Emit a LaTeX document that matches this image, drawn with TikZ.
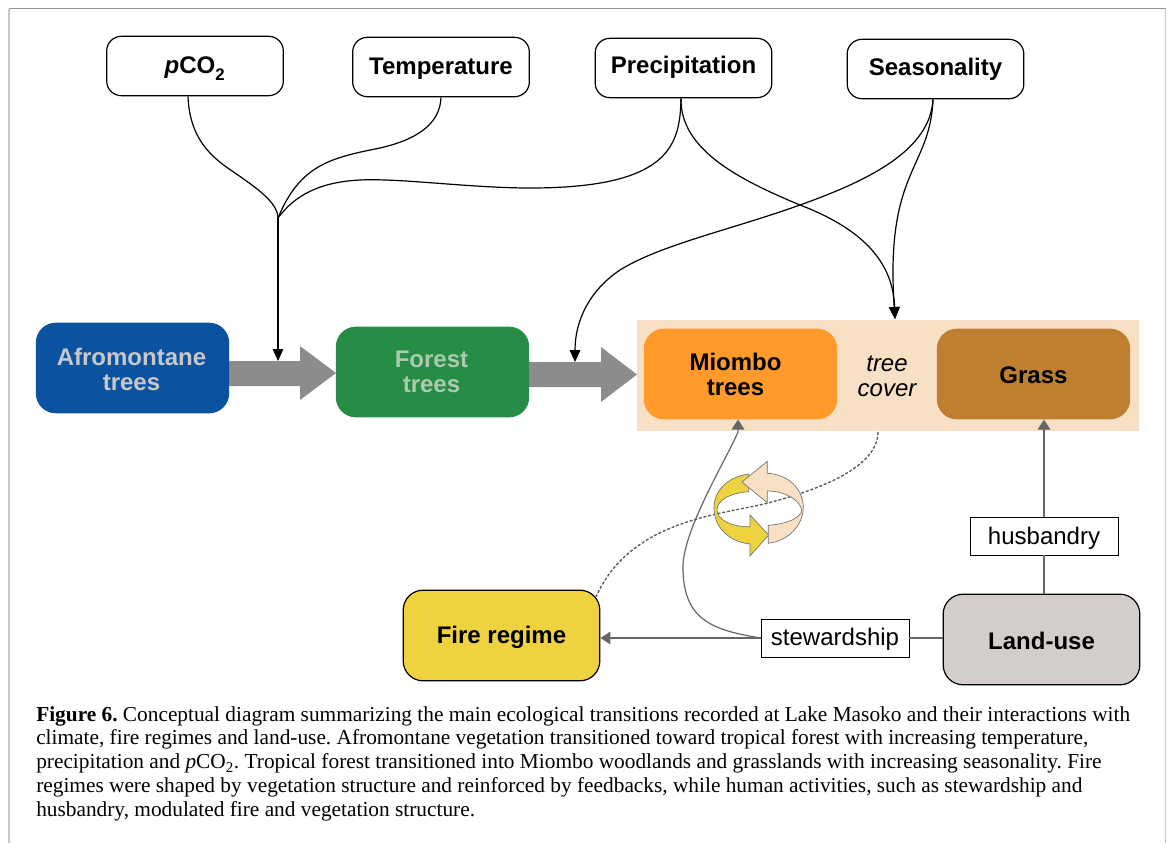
\documentclass[tikz,border=0pt]{standalone}
\usepackage{fontspec}
\setmainfont{Liberation Serif}
\newfontfamily\sansf{Liberation Sans}
\usetikzlibrary{arrows.meta}
\definecolor{bandc}{HTML}{F8E0C4}
\definecolor{yelc}{HTML}{EED23F}
\definecolor{linegray}{HTML}{666666}
\tikzset{
  x=0.75pt,y=-0.75pt,
  driver/.style={draw=black,line width=0.9pt,fill=white,rounded corners=11pt,minimum width=132.5pt,minimum height=44.5pt,inner sep=0pt,font=\sansf\bfseries\fontsize{18}{21}\selectfont,align=center},
  veg/.style={rounded corners=15pt,minimum width=145pt,minimum height=68pt,inner sep=0pt,font=\sansf\bfseries\fontsize{18}{18.75}\selectfont,align=center},
  tagbox/.style={draw=black,line width=0.5pt,fill=white,minimum width=111pt,minimum height=28.5pt,inner sep=0pt,font=\sansf\fontsize{18}{21}\selectfont},
  climate/.style={draw=black,line width=0.9pt},
  climatetip/.style={climate,-{Triangle[length=9pt,width=8pt]}},
  human/.style={draw=linegray,line width=0.9pt},
  humantip/.style={human,-{Triangle[length=7.5pt,width=9.5pt]}},
  blockarrow/.style={fill=black!45!white,draw=none},
  feedback/.style={draw=black!55!white,line width=0.5pt},
  up/.style={text height=#1,text depth=0pt},
}
\begin{document}
\begin{tikzpicture}
\useasboundingbox (0,0) rectangle (1171,843);
\fill[white] (0,0) rectangle (1171,843);
\draw[black!22,line width=1.4pt] (9,843) -- (9,8.5);
\draw[black!22,line width=1.2pt] (1165.5,8.5) -- (1165.5,843);
\draw[black!42,line width=1pt] (9,8.5) -- (1165.5,8.5);

% climate drivers
\node[driver,up=10.5pt] (co) at (195,66) {\textit{p}CO\textsubscript{\raisebox{-0.5ex}{2}}};
\node[driver,up=10.5pt] (temp) at (441,67) {Temperature};
\node[driver,up=8.25pt] (prec) at (683.5,68) {Precipitation};
\node[driver,up=9.75pt] (seas) at (935.5,69) {Seasonality};

% band
\node[fill=bandc,minimum width=376.5pt,minimum height=83.25pt,inner sep=0pt] (band) at (888,375.5) {};

% block arrows
\fill[blockarrow] (229,361) -- (300,361) -- (300,346) -- (336,373) -- (300,400) -- (300,386) -- (229,386) -- cycle;
\fill[blockarrow] (529,362) -- (601,362) -- (601,347) -- (637,374.5) -- (601,402) -- (601,387) -- (529,387) -- cycle;

% vegetation
\node[veg,up=33.75pt,fill={rgb,255:red,11;green,82;blue,160},text={rgb,255:red,200;green,200;blue,200}] (afro) at (132.5,368) {Afromontane\hspace*{1.5pt}\\trees\hspace*{1.5pt}};
\node[veg,up=30.75pt,fill={rgb,255:red,38;green,140;blue,70},text={rgb,255:red,170;green,203;blue,175}] (forest) at (432.5,372) {Forest\hspace*{1.5pt}\\trees\hspace*{1.5pt}};
\node[veg,up=32.25pt,fill={rgb,255:red,255;green,154;blue,43}] (miombo) at (740.5,374) {Miombo\hspace*{7.5pt}\\trees\hspace*{7.5pt}};
\node[veg,up=14.25pt,fill={rgb,255:red,190;green,128;blue,48}] (grass) at (1033.5,374) {Grass};
\node[font=\sansf\itshape\fontsize{18}{18.75}\selectfont,align=center,inner sep=0pt,up=31.5pt] (cover) at (887,375) {tree\\cover};

% lower nodes
\node[veg,up=12pt,draw=black,line width=0.9pt,fill=yelc,minimum width=147.5pt] (fire) at (501.5,635.5) {Fire regime};
\node[veg,up=15pt,draw=black,line width=0.9pt,fill={rgb,255:red,211;green,205;blue,203},minimum width=147.5pt] (land) at (1041.5,639.5) {Land-use};
\node[tagbox,up=12.5pt] (hus) at (1044,536) {husbandry};
\node[tagbox,up=11.5pt] (stew) at (835,638) {stewardship};

% junction and free ends
\coordinate (junc) at (278,218);
\coordinate (arrowA) at (278,361);
\coordinate (arrowB) at (575,362);
\coordinate (bandtop) at (895,319);
\coordinate (bandbot) at (878,432);
\coordinate (miotip) at (738,419.5);
\coordinate (firecorner) at (596,597);

% climate connectors
\draw[climate] (188,96.5) .. controls (190,150) and (225,165) .. (245,180) .. controls (262,192) and (278,205) .. (junc);
\draw[climate] (441,97.5) .. controls (440,125) and (415,140) .. (380,148) .. controls (330,158) and (300,165) .. (junc);
\draw[climate] (681,98.5) .. controls (680,145) and (670,188) .. (530,188) .. controls (470,188) and (400,178) .. (360,180) .. controls (320,182) and (295,195) .. (junc);
\draw[climatetip] (junc) -- (arrowA);
\draw[climatetip] (681,98.5) .. controls (680,150) and (740,180) .. (800,205) .. controls (860,228) and (893,260) .. (bandtop);
\draw[climatetip] (933,99.5) .. controls (930,170) and (885,170) .. (bandtop);
\draw[climatetip] (933,99.5) .. controls (930,150) and (870,180) .. (800,205) .. controls (730,230) and (660,245) .. (620,270) .. controls (590,290) and (575,320) .. (arrowB);

% human connectors
\draw[human] (land.north -| hus) -- (hus);
\draw[humantip] (hus) -- (grass.south -| hus);
\draw[human] (land.west |- stew) -- (stew);
\draw[humantip] (stew) -- (fire.east |- stew);
\draw[humantip] (stew.west) .. controls (712,630) and (683,620) .. (683,567) .. controls (683,530) and (726,460) .. (738,432) -- (miotip);

% dotted feedback
\draw[black!65,line width=1pt,dash pattern=on 2.2pt off 1.4pt] (bandbot) .. controls (878,470) and (810,492) .. (768,503) .. controls (720,515) and (630,520) .. (firecorner);

% circular arrows
\filldraw[feedback,fill=yelc] (768.7,535) -- (750,515) -- (750,526.7) .. controls (732,527) and (717,520) .. (717,510) .. controls (717,500) and (730,493) .. (748.7,491.7) -- (748.7,474) .. controls (728,477) and (714,490) .. (714,508) .. controls (714,528) and (730,542) .. (750,544) -- (750,556) -- cycle;
\filldraw[feedback,fill=bandc] (742,482) -- (767.3,461.3) -- (767.3,473.3) .. controls (787,474) and (803,488) .. (803.3,507) .. controls (803,527) and (787,541) .. (768.3,543.3) -- (768.3,525.3) .. controls (787,524) and (801,518) .. (801.7,510) .. controls (800,500) and (785,491) .. (767.3,491) -- (767.3,502.7) -- cycle;

% caption
\node[anchor=north west,inner sep=0pt,align=left,font=\fontsize{16}{17.8}\selectfont\frenchspacing] (cap) at (36,706) {\textbf{Figure 6.} Conceptual diagram summarizing the main ecological transitions recorded at Lake Masoko and their interactions with\\
climate, fire regimes and land-use. Afromontane vegetation transitioned toward tropical forest with increasing temperature,\\
precipitation and \textit{p}CO\textsubscript{2}. Tropical forest transitioned into Miombo woodlands and grasslands with increasing seasonality. Fire\\
regimes were shaped by vegetation structure and reinforced by feedbacks, while human activities, such as stewardship and\\
husbandry, modulated fire and vegetation structure.};
\end{tikzpicture}
\end{document}
